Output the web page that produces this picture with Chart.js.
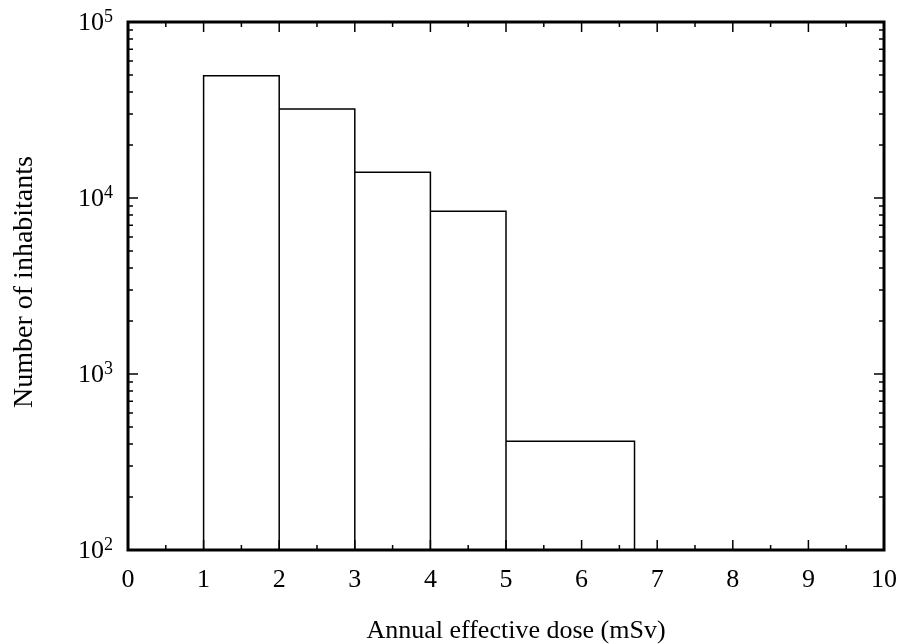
<!DOCTYPE html>
<html>
<head>
<meta charset="utf-8">
<script src="https://cdn.jsdelivr.net/npm/chart.js@4"></script>
<style>
  html, body { margin: 0; padding: 0; background: #fff; }
  #wrap { width: 899px; height: 644px; }
</style>
</head>
<body>
<div id="wrap"><canvas id="histChart"></canvas></div>
<script>
// ====== Datos ======
const binEdges = [1, 2, 3, 4, 5, 6.7];
const inhabitants = [49500, 32000, 14000, 8400, 415];
const xTicks = [0, 1, 2, 3, 4, 5, 6, 7, 8, 9, 10];
const yTicks = [100, 1000, 10000, 100000];
const yTickExp = ['2', '3', '4', '5'];
const xTitle = 'Annual effective dose (mSv)';
const yTitle = 'Number of inhabitants';

const FONT = '"Liberation Serif", "Times New Roman", serif';

// contorno del histograma (en unidades de datos)
const outline = [];
inhabitants.forEach((v, i) => {
  const lo = binEdges[i], hi = binEdges[i + 1];
  outline.push({x: lo, y: yTicks[0]}, {x: lo, y: v}, {x: hi, y: v}, {x: hi, y: yTicks[0]});
});

// marco, ticks hacia adentro, etiquetas 10^n y títulos
const framePlugin = {
  id: 'frame',
  afterDraw(chart) {
    const {ctx, chartArea: a, scales: {x, y}} = chart;
    ctx.save();
    ctx.strokeStyle = '#000';
    ctx.lineWidth = 1.5;
    ctx.beginPath();
    // ticks x
    xTicks.forEach(t => {
      const px = x.getPixelForValue(t);
      ctx.moveTo(px, a.bottom); ctx.lineTo(px, a.bottom - 10);
      ctx.moveTo(px, a.top); ctx.lineTo(px, a.top + 10);
      if (t < 10) {
        const pm = x.getPixelForValue(t + 0.5);
        ctx.moveTo(pm, a.bottom); ctx.lineTo(pm, a.bottom - 5);
        ctx.moveTo(pm, a.top); ctx.lineTo(pm, a.top + 5);
      }
    });
    // ticks y
    yTicks.forEach((t, i) => {
      const py = y.getPixelForValue(t);
      ctx.moveTo(a.left, py); ctx.lineTo(a.left + 10, py);
      ctx.moveTo(a.right, py); ctx.lineTo(a.right - 10, py);
      if (i < yTicks.length - 1) {
        for (let m = 2; m <= 9; m++) {
          const pm = y.getPixelForValue(t * m);
          ctx.moveTo(a.left, pm); ctx.lineTo(a.left + 5, pm);
          ctx.moveTo(a.right, pm); ctx.lineTo(a.right - 5, pm);
        }
      }
    });
    ctx.stroke();
    // marco
    ctx.lineWidth = 3;
    ctx.strokeRect(a.left, a.top, a.right - a.left, a.bottom - a.top);
    // etiquetas eje y
    ctx.fillStyle = '#000';
    ctx.textBaseline = 'middle';
    const xr = a.left - 15;
    yTicks.forEach((t, i) => {
      const py = y.getPixelForValue(t);
      ctx.font = '18px ' + FONT;
      const sw = ctx.measureText(yTickExp[i]).width;
      ctx.textAlign = 'left';
      ctx.fillText(yTickExp[i], xr - sw, py - 5);
      ctx.font = '26px ' + FONT;
      ctx.textAlign = 'right';
      ctx.fillText('10', xr - sw, py + 1);
    });
    // títulos
    ctx.textBaseline = 'alphabetic';
    ctx.font = '26px ' + FONT;
    ctx.textAlign = 'center';
    ctx.fillText(xTitle, 516, 638);
    ctx.font = '28px ' + FONT;
    ctx.translate(32, 282);
    ctx.rotate(-Math.PI / 2);
    ctx.fillText(yTitle, 0, 0);
    ctx.restore();
  }
};

new Chart(document.getElementById('histChart'), {
  type: 'scatter',
  data: {
    datasets: [{
      data: outline,
      showLine: true,
      fill: false,
      borderColor: '#000',
      borderWidth: 1.5,
      pointRadius: 0,
      pointHoverRadius: 0,
      tension: 0
    }]
  },
  options: {
    responsive: true,
    maintainAspectRatio: false,
    animation: false,
    layout: { padding: { left: 0, right: 15, top: 22, bottom: 0 } },
    plugins: { legend: { display: false }, tooltip: { enabled: false } },
    scales: {
      x: {
        type: 'linear',
        min: 0, max: 10,
        afterFit: s => { s.height = 94; s.paddingLeft = 0; s.paddingRight = 0; },
        afterBuildTicks: s => { s.ticks = xTicks.map(v => ({value: v})); },
        grid: { display: false, drawTicks: false },
        border: { display: false },
        ticks: { color: '#000', font: { family: FONT, size: 26 }, padding: 15, maxRotation: 0 }
      },
      y: {
        type: 'logarithmic',
        min: 100, max: 100000,
        afterFit: s => { s.width = 128; s.paddingTop = 0; s.paddingBottom = 0; },
        grid: { display: false, drawTicks: false },
        border: { display: false },
        ticks: { display: false }
      }
    }
  },
  plugins: [framePlugin]
});
</script>
</body>
</html>
